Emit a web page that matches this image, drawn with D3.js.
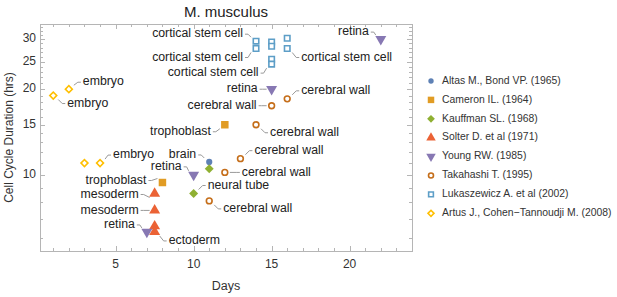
<!DOCTYPE html>
<html>
<head>
<meta charset="utf-8">
<script src="https://cdn.jsdelivr.net/npm/d3@7"></script>
<style>
  body { margin: 0; background: #fff; }
  svg { font-family: "Liberation Sans", Arial, Helvetica, sans-serif; display: block; }
</style>
</head>
<body>
<div id="chart"></div>
<script>
// series: [day, hours, label]
const altas = [[11, 11.1, "brain"]];
const cameron = [[8, 9.4, "trophoblast"], [12, 15, "trophoblast"]];
const kauffman = [[11, 10.5, ""], [10, 8.6, "neural tube"]];
const solter = [[7.5, 8.6, "mesoderm"], [7.5, 7.5, "mesoderm"], [7.5, 6.6, ""], [7.5, 6.3, "ectoderm"]];
const young = [[7, 6.3, "retina"], [10, 10, "retina"], [15, 20, "retina"], [22, 30, "retina"]];
const takahashi = [[15, 17.5, "cerebral wall"], [16, 18.5, "cerebral wall"], [14, 15, "cerebral wall"],
  [13, 11.4, "cerebral wall"], [12, 10.2, "cerebral wall"], [11, 8.1, "cerebral wall"]];
const lukaszewicz = [[14, 29.5, "cortical stem cell"], [14, 27.8, "cortical stem cell"], [15, 29.3, ""],
  [15, 28.3, ""], [15, 25.5, ""], [15, 24.5, "cortical stem cell"], [16, 30.2, ""], [16, 27.8, "cortical stem cell"]];
const artus = [[1, 19, "embryo"], [2, 20, "embryo"], [3, 11, ""], [4, 11, "embryo"]];

const seriesNames = ["Altas M., Bond VP. (1965)", "Cameron IL. (1964)", "Kauffman SL. (1968)",
  "Solter D. et al (1971)", "Young RW. (1985)", "Takahashi T. (1995)", "Lukaszewicz A. et al (2002)",
  "Artus J., Cohen\u2212Tannoudji M. (2008)"];
const seriesData = [altas, cameron, kauffman, solter, young, takahashi, lukaszewicz, artus];

const xTicks = [5, 10, 15, 20];
const yTicks = [10, 15, 20, 25, 30];

(function cellCycle() {

  let width = 617, height = 297,
    margin = ({ top: 24, right: 205, bottom: 46, left: 40 });

  const colors = ["#5E81B5", "#E19C24", "#8FB032", "#EB6235", "#8778B3", "#C56E1A", "#5D9EC7", "#FFBF00"];
  // marker kind per series
  const shapes = [
    { type: d3.symbolCircle, size: 30, fill: true },
    { type: d3.symbolSquare, size: 56, fill: true },
    { type: d3.symbolSquare, size: 40, fill: true, rot: 45 },
    { type: d3.symbolTriangle, size: 52, fill: true },
    { type: d3.symbolTriangle, size: 52, fill: true, rot: 180 },
    { type: d3.symbolCircle, size: 26, fill: false },
    { type: d3.symbolSquare, size: 30, fill: false },
    { type: d3.symbolSquare, size: 24, fill: false, rot: 45 }
  ];

  // label offsets in px from the marker: [dx, dy] (dx > 0 -> text to the right)
  const labelOffsets = {
    "0-0": [-13, -7],
    "1-0": [-16, -2], "1-1": [-14, 7],
    "2-1": [14, -8],
    "3-0": [-16, 1], "3-1": [-16, 0], "3-3": [14, 9],
    "4-0": [-12, -7], "4-1": [-12, -8], "4-2": [-14, 0], "4-3": [-12, -7],
    "5-0": [-15, 0], "5-1": [14, -8], "5-2": [14, 8], "5-3": [14, -8], "5-4": [17, 0], "5-5": [14, 8],
    "6-0": [-13, -7], "6-1": [-13, 9], "6-5": [-13, 9], "6-7": [14, 9],
    "7-0": [14, 8], "7-1": [14, -7], "7-3": [13, -8]
  };

  const svg = d3.select("#chart")
    .append("svg")
    .attr("width", width)
    .attr("height", height);

  let x = d3.scaleLinear()
    .domain([0.15, 24])
    .range([margin.left, width - margin.right]);

  let y = d3.scaleLog()
    .domain([5.4, 33.9])
    .range([height - margin.bottom, margin.top]);

  let x0 = margin.left, x1 = width - margin.right,
    y0 = height - margin.bottom, y1 = margin.top;

  let frame = svg.append("g")
    .attr("stroke", "#b5b5b5")
    .attr("stroke-width", 1)
    .attr("fill", "none");

  frame.append("rect")
    .attr("x", x0 + 0.5).attr("y", y1 + 0.5)
    .attr("width", x1 - x0).attr("height", y0 - y1);

  // x ticks, every day, long at multiples of 5 (inward, mirrored top)
  d3.range(1, 24).forEach(d => {
    let len = d % 5 === 0 ? 5 : 3;
    let px = Math.round(x(d)) + 0.5;
    frame.append("line").attr("x1", px).attr("x2", px).attr("y1", y0).attr("y2", y0 - len);
    frame.append("line").attr("x1", px).attr("x2", px).attr("y1", y1).attr("y2", y1 + len);
  });

  // y ticks, every hour
  d3.range(6, 34).forEach(d => {
    let len = yTicks.includes(d) ? 5 : 3;
    let py = Math.round(y(d)) + 0.5;
    frame.append("line").attr("x1", x0).attr("x2", x0 + len).attr("y1", py).attr("y2", py);
    frame.append("line").attr("x1", x1).attr("x2", x1 - len).attr("y1", py).attr("y2", py);
  });

  svg.append("g").selectAll("text")
    .data(xTicks)
    .join("text")
    .attr("x", d => x(d))
    .attr("y", y0 + 14)
    .attr("text-anchor", "middle")
    .attr("dominant-baseline", "middle")
    .attr("font-size", 12)
    .attr("fill", "#333")
    .text(d => d);

  svg.append("g").selectAll("text")
    .data(yTicks)
    .join("text")
    .attr("x", x0 - 4)
    .attr("y", d => y(d))
    .attr("text-anchor", "end")
    .attr("dominant-baseline", "middle")
    .attr("font-size", 12)
    .attr("fill", "#333")
    .text(d => d);

  svg.append("text")
    .attr("x", (x0 + x1) / 2)
    .attr("y", 13)
    .attr("text-anchor", "middle")
    .attr("dominant-baseline", "middle")
    .attr("font-size", 15)
    .attr("fill", "#222")
    .text("M. musculus");

  svg.append("text")
    .attr("x", (x0 + x1) / 2)
    .attr("y", 287)
    .attr("text-anchor", "middle")
    .attr("dominant-baseline", "middle")
    .attr("font-size", 12.5)
    .attr("fill", "#333")
    .text("Days");

  svg.append("text")
    .attr("transform", `translate(10,${(y0 + y1) / 2}) rotate(-90)`)
    .attr("text-anchor", "middle")
    .attr("dominant-baseline", "middle")
    .attr("font-size", 12)
    .attr("fill", "#333")
    .text("Cell Cycle Duration (hrs)");

  let marker = (g, i, scale) => {
    let s = shapes[i];
    g.append("path")
      .attr("d", d3.symbol().type(s.type).size(s.size * (scale || 1))())
      .attr("transform", s.rot ? `rotate(${s.rot})` : null)
      .attr("fill", s.fill ? colors[i] : "#fff")
      .attr("stroke", s.fill ? "none" : colors[i])
      .attr("stroke-width", 1.6);
  };

  // callouts first so markers sit on top
  let callouts = svg.append("g");
  let marks = svg.append("g");

  seriesData.forEach((series, i) => {
    series.forEach((d, j) => {
      let px = x(d[0]), py = y(d[1]);
      let g = marks.append("g").attr("transform", `translate(${px},${py})`);
      marker(g, i);

      let off = labelOffsets[`${i}-${j}`];
      if (!d[2] || !off) return;
      let dir = off[0] > 0 ? 1 : -1;
      let lx = px + off[0], ly = py + off[1];
      let dyDir = Math.sign(off[1]);

      callouts.append("path")
        .attr("d", `M${lx - dir * 2},${ly} L${lx - dir * 5},${ly} L${px + dir * 5},${py + dyDir * 4}`)
        .attr("fill", "none")
        .attr("stroke", "#999")
        .attr("stroke-width", 1)
        .attr("stroke-linejoin", "round");

      callouts.append("text")
        .attr("x", lx)
        .attr("y", ly)
        .attr("text-anchor", dir > 0 ? "start" : "end")
        .attr("dominant-baseline", "middle")
        .attr("font-size", 12.3)
        .attr("fill", "#222")
        .text(d[2]);
    });
  });

  let legend = svg.append("g");
  seriesNames.forEach((name, i) => {
    let ly = 81 + i * 18.9;
    let g = legend.append("g").attr("transform", `translate(431,${ly})`);
    marker(g, i, 0.75);
    legend.append("text")
      .attr("x", 442)
      .attr("y", ly)
      .attr("dominant-baseline", "middle")
      .attr("font-size", 10.4)
      .attr("fill", "#333")
      .text(name);
  });

})();
</script>
</body>
</html>
